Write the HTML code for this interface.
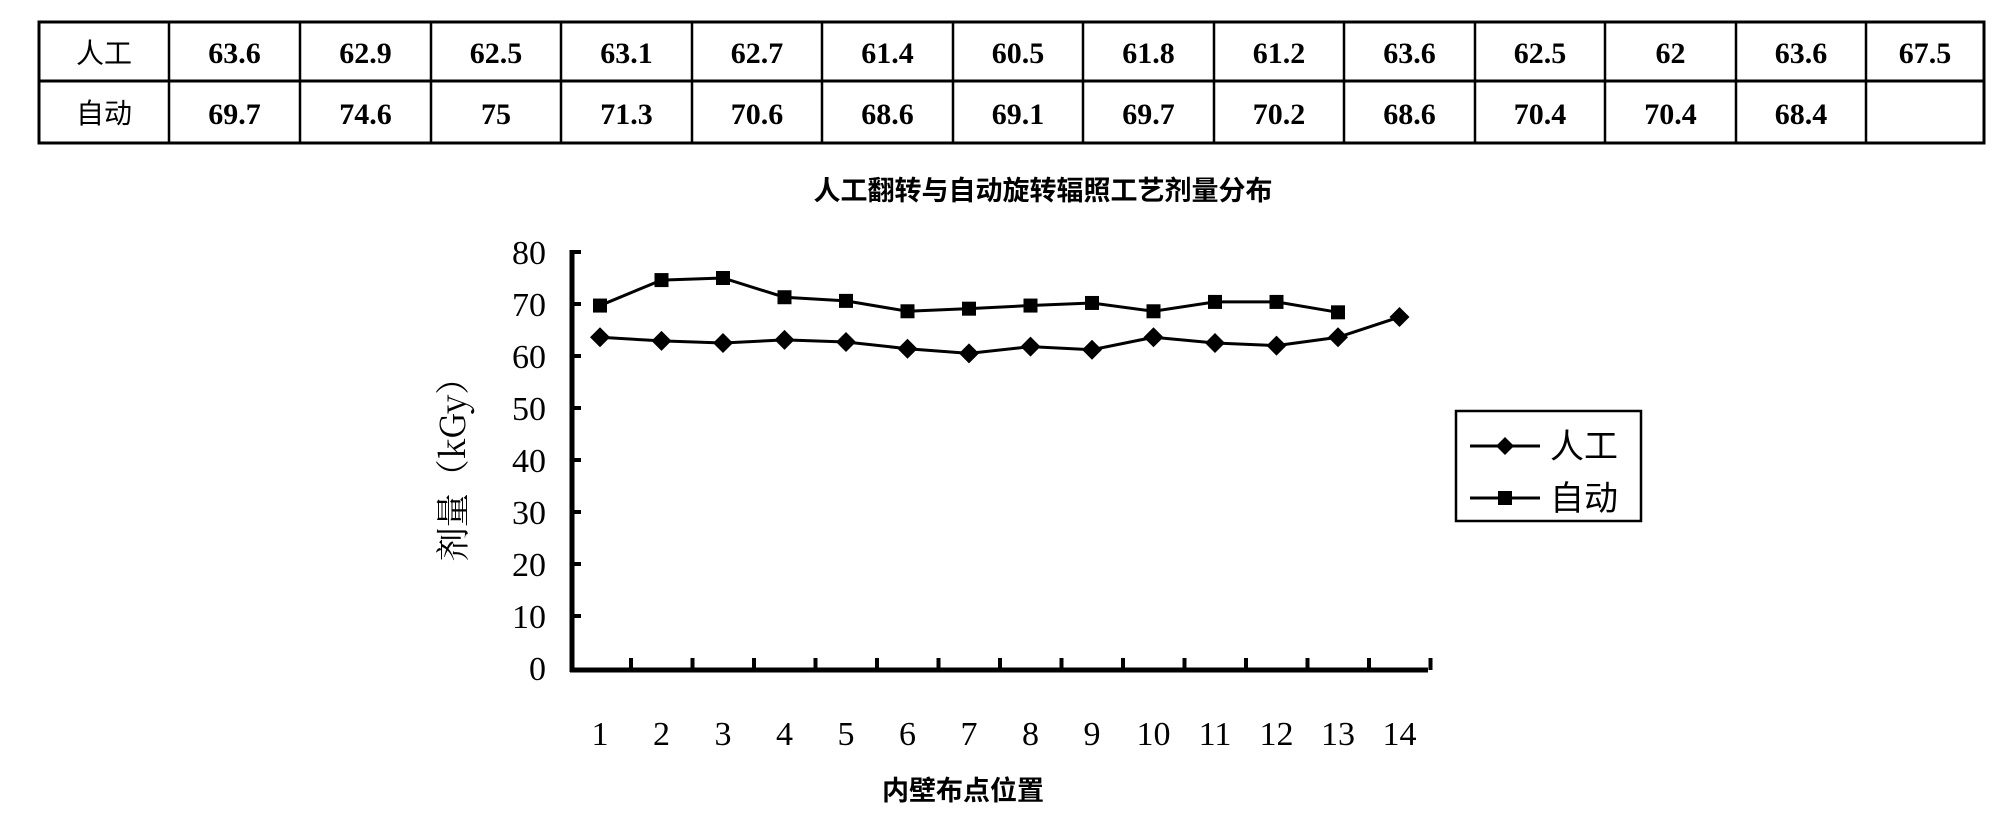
<!DOCTYPE html>
<html><head><meta charset="utf-8"><style>
body{margin:0;background:#fff;width:2007px;height:823px;overflow:hidden}
</style></head><body>
<svg width="2007" height="823" xmlns="http://www.w3.org/2000/svg" font-family="'Liberation Serif','Noto Serif CJK SC',serif">
<g stroke="#000" stroke-width="3" fill="none">
<rect x="39" y="22" width="1945" height="121"/>
<line x1="39" y1="81" x2="1984" y2="81"/>
</g>
<g id="cols" stroke="#000" stroke-width="2.5"></g>
<g id="txt" font-size="30" font-weight="bold" text-anchor="middle"></g>
<text x="1043" y="200" font-size="27" font-weight="bold" text-anchor="middle" font-family="'Noto Sans CJK SC',sans-serif">人工翻转与自动旋转辐照工艺剂量分布</text>
<g stroke="#000" stroke-width="5" fill="none">
<line x1="572" y1="250" x2="572" y2="672"/>
<line x1="570" y1="670" x2="1428" y2="670"/>
</g>
<g id="ticks" stroke="#000" stroke-width="4"></g>
<g id="ylab" font-size="34" text-anchor="end"></g>
<g id="xlab" font-size="34" text-anchor="middle"></g>
<text transform="translate(465,461) rotate(-90)" font-size="34" text-anchor="middle" font-family="'Noto Serif CJK SC',serif">剂量（kGy）</text>
<text x="963" y="800" font-size="27" font-weight="bold" text-anchor="middle" font-family="'Noto Sans CJK SC',sans-serif">内壁布点位置</text>
<g id="series"></g>
<rect x="1456" y="411" width="185" height="110" fill="none" stroke="#000" stroke-width="2.5"/>
<line x1="1470" y1="446" x2="1540" y2="446" stroke="#000" stroke-width="3"/>
<polygon points="1505,437 1514,446 1505,455 1496,446" fill="#000"/>
<line x1="1470" y1="498" x2="1540" y2="498" stroke="#000" stroke-width="3"/>
<rect x="1498" y="491" width="14" height="14" fill="#000"/>
<text x="1550" y="458" font-size="34" font-family="'Noto Sans CJK SC',sans-serif">人工</text>
<text x="1550" y="510" font-size="34" font-family="'Noto Sans CJK SC',sans-serif">自动</text>
</svg>
<script>
const ns="http://www.w3.org/2000/svg";
function el(p,t,a,txt){const e=document.createElementNS(ns,t);for(const k in a)e.setAttribute(k,a[k]);if(txt!==undefined)e.textContent=txt;document.getElementById(p).appendChild(e);}
const b=[39,169,300,431,561,692,822,953,1083,1214,1344,1475,1605,1736,1866,1984];
for(let i=1;i<b.length-1;i++)el("cols","line",{x1:b[i],y1:22,x2:b[i],y2:143});
const A=["63.6","62.9","62.5","63.1","62.7","61.4","60.5","61.8","61.2","63.6","62.5","62","63.6","67.5"];
const B=["69.7","74.6","75","71.3","70.6","68.6","69.1","69.7","70.2","68.6","70.4","70.4","68.4",""];
el("txt","text",{x:(b[0]+b[1])/2,y:63,"font-family":"'Noto Sans CJK SC',sans-serif","font-weight":"normal","font-size":28},"人工");
el("txt","text",{x:(b[0]+b[1])/2,y:123,"font-family":"'Noto Sans CJK SC',sans-serif","font-weight":"normal","font-size":28},"自动");
for(let i=0;i<14;i++){const cx=(b[i+1]+b[i+2])/2;el("txt","text",{x:cx,y:63},A[i]);if(B[i])el("txt","text",{x:cx,y:124},B[i]);}
const y=v=>668-5.2*v, x=i=>600+61.5*i;
for(let v=0;v<=80;v+=10){el("ylab","text",{x:546,y:y(v)+12},v);if(v>0)el("ticks","line",{x1:572,y1:y(v),x2:581,y2:y(v)});}
for(let i=0;i<14;i++){el("xlab","text",{x:x(i),y:745},i+1);el("ticks","line",{x1:x(i)+31,y1:670,x2:x(i)+31,y2:658});}
let pa=A.map((v,i)=>x(i)+","+y(+v)).join(" ");
el("series","polyline",{points:pa,fill:"none",stroke:"#000","stroke-width":3});
let pb=B.filter(v=>v).map((v,i)=>x(i)+","+y(+v)).join(" ");
el("series","polyline",{points:pb,fill:"none",stroke:"#000","stroke-width":3});
A.forEach((v,i)=>{const X=x(i),Y=y(+v);el("series","polygon",{points:`${X},${Y-10} ${X+10},${Y} ${X},${Y+10} ${X-10},${Y}`,fill:"#000"});});
B.forEach((v,i)=>{if(!v)return;el("series","rect",{x:x(i)-7,y:y(+v)-7,width:14,height:14,fill:"#000"});});
</script>
</body></html>
